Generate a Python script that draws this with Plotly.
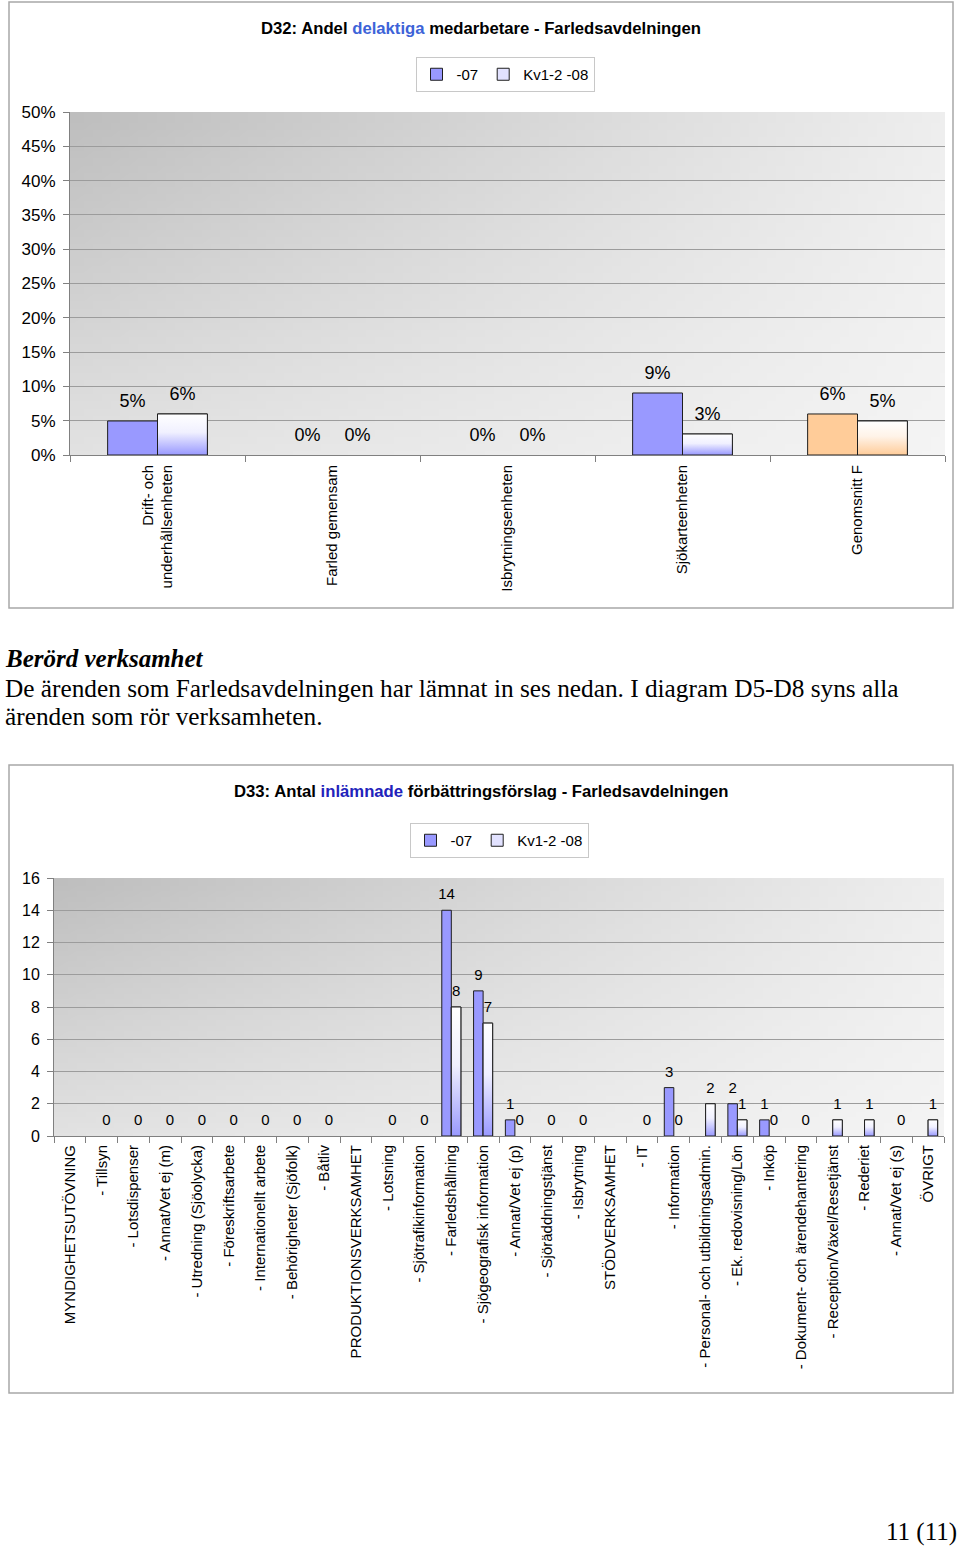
import base64
import struct
import zlib
import plotly.graph_objects as go

W, H = 960, 1547

# ---------------- data ----------------
top_categories = ["Drift- och<br>underhållsenheten", "Farled gemensam", "Isbrytningsenheten",
                  "Sjökarteenheten", "Genomsnitt F"]
top_2007 = [0.0496, 0.0, 0.0, 0.0904, 0.0598]
top_kv2008 = [0.0598, 0.0, 0.0, 0.0306, 0.0496]

bottom_categories = [
    "MYNDIGHETSUTÖVNING", "- Tillsyn", "- Lotsdispenser", "- Annat/Vet ej (m)",
    "- Utredning (Sjöolycka)", "- Föreskriftsarbete", "- Internationellt arbete",
    "- Behörigheter (Sjöfolk)", "- Båtliv", "PRODUKTIONSVERKSAMHET", "- Lotsning",
    "- Sjötrafikinformation", "- Farledshållning", "- Sjögeografisk information",
    "- Annat/Vet ej (p)", "- Sjöräddningstjänst", "- Isbrytning", "STÖDVERKSAMHET",
    "- IT", "- Information", "- Personal- och utbildningsadmin.", "- Ek. redovisning/Lön",
    "- Inköp", "- Dokument- och ärendehantering", "- Reception/Växel/Resetjänst",
    "- Rederiet", "- Annat/Vet ej (s)", "ÖVRIGT"]
bottom_2007 = [None, None, None, None, None, None, None, None, None, None, None, None,
               14, 9, 1, None, None, None, None, 3, None, 2, 1, None, None, None, None, None]
bottom_kv2008 = [None, 0, 0, 0, 0, 0, 0, 0, 0, None, 0, 0,
                 8, 7, 0, 0, 0, None, 0, 0, 2, 1, 0, 0, 1, 1, 0, 1]

series_names = ["-07", "Kv1-2 -08"]

# ---------------- styles ----------------
BLUE = "#9999FF"
ORANGE = "#FFCC99"
top_colors = [BLUE, BLUE, BLUE, BLUE, ORANGE]
OUTLINE = "#1E1E1E"
SANS = "Liberation Sans, Arial, sans-serif"
SERIF = "Liberation Serif, Times New Roman, serif"
BAR_W_TOP = 0.285
BAR_W_BOT = 0.30


def px_y(y):
    return 1 - y / H


def px_x(x):
    return x / W


def outline_widths(values):
    # no outline on zero-height bars (avoids a dark stub on the baseline)
    return [0 if v == 0 else 1 for v in values]


def gradient_png(w, h, tl, tr, bl, br):
    rows = []
    for j in range(h):
        v = j / (h - 1)
        row = bytearray([0])
        for i in range(w):
            u = i / (w - 1)
            c = tl * (1 - u) * (1 - v) + tr * u * (1 - v) + bl * (1 - u) * v + br * u * v
            c = int(round(c))
            row += bytes([c, c, c])
        rows.append(bytes(row))
    raw = b"".join(rows)

    def chunk(t, d):
        return struct.pack(">I", len(d)) + t + d + struct.pack(">I", zlib.crc32(t + d) & 0xFFFFFFFF)

    png = (b"\x89PNG\r\n\x1a\n"
           + chunk(b"IHDR", struct.pack(">IIBBBBB", w, h, 8, 2, 0, 0, 0))
           + chunk(b"IDAT", zlib.compress(raw, 9))
           + chunk(b"IEND", b""))
    return "data:image/png;base64," + base64.b64encode(png).decode()


bg_img = gradient_png(96, 48, 190, 238, 226, 244)

fig = go.Figure()


def add_labels(xs, ys, texts, font_size, marker_size, xa, ya):
    px, py, pt = [], [], []
    for x, y, t in zip(xs, ys, texts):
        if y is not None:
            px.append(x)
            py.append(y)
            pt.append(t)
    fig.add_trace(go.Scatter(
        x=px, y=py, text=pt, mode="markers+text", textposition="top center",
        marker=dict(size=marker_size, opacity=0, color="white"),
        textfont=dict(family=SANS, size=font_size, color="black"),
        hoverinfo="skip", showlegend=False, cliponaxis=False, xaxis=xa, yaxis=ya))


# ---------------- top chart ----------------
top_x = list(range(len(top_categories)))
fig.add_trace(go.Bar(
    x=top_x, y=top_2007, name=series_names[0], width=BAR_W_TOP, offset=-BAR_W_TOP,
    marker=dict(color=top_colors, line=dict(color=OUTLINE, width=outline_widths(top_2007))),
    xaxis="x", yaxis="y", legend="legend"))
fig.add_trace(go.Bar(
    x=top_x, y=top_kv2008, name=series_names[1], width=BAR_W_TOP, offset=0,
    marker=dict(color="#E2E2FF", line=dict(color=OUTLINE, width=outline_widths(top_kv2008))),
    xaxis="x", yaxis="y", legend="legend"))
for i, v in enumerate(top_kv2008):
    if v:
        c = top_colors[i]
        fig.add_trace(go.Scatter(
            x=[i, i + BAR_W_TOP, i + BAR_W_TOP, i, i], y=[0, 0, v, v, 0],
            mode="lines", fill="toself",
            fillgradient=dict(type="vertical", colorscale=[[0, c], [0.55, "#F0F0FF" if c == BLUE else "#FFF3E8"], [1, "#FFFFFF"]]),
            line=dict(color=OUTLINE, width=1), hoverinfo="skip", showlegend=False,
            xaxis="x", yaxis="y"))
add_labels([i - BAR_W_TOP / 2 for i in top_x], top_2007,
           [f"{v:.0%}" for v in top_2007], 18, 14, "x", "y")
add_labels([i + BAR_W_TOP / 2 for i in top_x], top_kv2008,
           [f"{v:.0%}" for v in top_kv2008], 18, 14, "x", "y")

# ---------------- bottom chart ----------------
bot_x = list(range(len(bottom_categories)))
fig.add_trace(go.Bar(
    x=bot_x, y=bottom_2007, name=series_names[0], width=BAR_W_BOT, offset=-BAR_W_BOT,
    marker=dict(color=BLUE, line=dict(color=OUTLINE, width=outline_widths(bottom_2007))),
    xaxis="x2", yaxis="y2", legend="legend2"))
fig.add_trace(go.Bar(
    x=bot_x, y=bottom_kv2008, name=series_names[1], width=BAR_W_BOT, offset=0,
    marker=dict(color="#E2E2FF", line=dict(color=OUTLINE, width=outline_widths(bottom_kv2008))),
    xaxis="x2", yaxis="y2", legend="legend2"))
for i, v in enumerate(bottom_kv2008):
    if v:
        fig.add_trace(go.Scatter(
            x=[i, i + BAR_W_BOT, i + BAR_W_BOT, i, i], y=[0, 0, v, v, 0],
            mode="lines", fill="toself",
            fillgradient=dict(type="vertical", colorscale=[[0, BLUE], [0.55, "#F0F0FF"], [1, "#FFFFFF"]]),
            line=dict(color=OUTLINE, width=1), hoverinfo="skip", showlegend=False,
            xaxis="x2", yaxis="y2"))
add_labels([i - BAR_W_BOT / 2 for i in bot_x], bottom_2007,
           ["" if v is None else str(v) for v in bottom_2007], 15, 10, "x2", "y2")
add_labels([i + BAR_W_BOT / 2 for i in bot_x], bottom_kv2008,
           ["" if v is None else str(v) for v in bottom_kv2008], 15, 10, "x2", "y2")

axis_grey = "#808080"
grid_grey = "#9C9C9C"

fig.update_layout(
    width=W, height=H,
    margin=dict(l=0, r=0, t=0, b=0, pad=0, autoexpand=False),
    paper_bgcolor="white", plot_bgcolor="rgba(0,0,0,0)",
    barmode="overlay",
    font=dict(family=SANS, color="black"),
    xaxis=dict(domain=[px_x(70), px_x(945)], range=[-0.5, len(top_categories) - 0.5],
               tickmode="array", tickvals=top_x, ticktext=top_categories, tickangle=-90,
               tickfont=dict(family=SANS, size=15, color="black"),
               ticks="", showgrid=False, zeroline=False, showline=True, linecolor=axis_grey,
               ticklabelstandoff=3, automargin=False,
               minor=dict(tickmode="array", tickvals=[k - 0.5 for k in range(len(top_categories) + 1)],
                          ticks="outside", ticklen=6, tickcolor=axis_grey, showgrid=False),
               anchor="y", fixedrange=True),
    yaxis=dict(domain=[px_y(455), px_y(112)], range=[0, 0.5], dtick=0.05, tickformat=".0%",
               tickfont=dict(family=SANS, size=17, color="black"),
               ticks="outside", ticklen=6, tickcolor=axis_grey, showline=True, linecolor=axis_grey,
               showgrid=True, gridcolor=grid_grey, gridwidth=1, zeroline=False,
               ticklabelstandoff=4, automargin=False, anchor="x", fixedrange=True),
    xaxis2=dict(domain=[px_x(54), px_x(944)], range=[-0.5, len(bottom_categories) - 0.5],
                tickmode="array", tickvals=bot_x, ticktext=bottom_categories, tickangle=-90,
                tickfont=dict(family=SANS, size=15, color="black"),
                ticks="", showgrid=False, zeroline=False, showline=True, linecolor=axis_grey,
                ticklabelstandoff=2, automargin=False,
                minor=dict(tickmode="array", tickvals=[k - 0.5 for k in range(len(bottom_categories) + 1)],
                           ticks="outside", ticklen=6, tickcolor=axis_grey, showgrid=False),
                anchor="y2", fixedrange=True),
    yaxis2=dict(domain=[px_y(1136), px_y(878)], range=[0, 16], dtick=2,
                tickfont=dict(family=SANS, size=16, color="black"),
                ticks="outside", ticklen=6, tickcolor=axis_grey, showline=True, linecolor=axis_grey,
                showgrid=True, gridcolor=grid_grey, gridwidth=1, zeroline=False,
                ticklabelstandoff=4, automargin=False, anchor="x2", fixedrange=True),
    legend=dict(orientation="h", x=px_x(505), y=px_y(57), xanchor="center", yanchor="top",
                bgcolor="white", bordercolor="#C8C8C8", borderwidth=1,
                font=dict(family=SANS, size=15, color="black"), itemwidth=30),
    legend2=dict(orientation="h", x=px_x(499), y=px_y(823), xanchor="center", yanchor="top",
                 bgcolor="white", bordercolor="#C8C8C8", borderwidth=1,
                 font=dict(family=SANS, size=15, color="black"), itemwidth=30),
    images=[
        dict(source=bg_img, xref="x", yref="y", x=-0.5, y=0.5, sizex=len(top_categories), sizey=0.5,
             sizing="stretch", xanchor="left", yanchor="top", layer="below"),
        dict(source=bg_img, xref="x2", yref="y2", x=-0.5, y=16, sizex=len(bottom_categories), sizey=16,
             sizing="stretch", xanchor="left", yanchor="top", layer="below"),
    ],
    shapes=[
        dict(type="rect", xref="paper", yref="paper", x0=px_x(9), x1=px_x(953), y0=px_y(608), y1=px_y(2),
             line=dict(color="#A8A8A8", width=1.5), fillcolor="rgba(0,0,0,0)", layer="below"),
        dict(type="rect", xref="paper", yref="paper", x0=px_x(9), x1=px_x(953), y0=px_y(1393), y1=px_y(765),
             line=dict(color="#A8A8A8", width=1.5), fillcolor="rgba(0,0,0,0)", layer="below"),
    ],
    annotations=[
        dict(xref="paper", yref="paper", x=px_x(481), y=px_y(28), xanchor="center", yanchor="middle",
             showarrow=False, font=dict(family=SANS, size=16.7, color="black"),
             text="<b>D32: Andel <span style='color:#3D63D8'>delaktiga</span> medarbetare - Farledsavdelningen</b>"),
        dict(xref="paper", yref="paper", x=px_x(481), y=px_y(792), xanchor="center", yanchor="middle",
             showarrow=False, font=dict(family=SANS, size=16.7, color="black"),
             text="<b>D33: Antal <span style='color:#2222BB'>inlämnade</span> förbättringsförslag - Farledsavdelningen</b>"),
        dict(xref="paper", yref="paper", x=px_x(3), y=px_y(658), xanchor="left", yanchor="middle",
             showarrow=False, font=dict(family=SERIF, size=25, color="black"),
             text="<b><i>Berörd verksamhet</i></b>"),
        dict(xref="paper", yref="paper", x=px_x(3), y=px_y(688), xanchor="left", yanchor="middle",
             showarrow=False, font=dict(family=SERIF, size=25.3, color="black"),
             text="De ärenden som Farledsavdelningen har lämnat in ses nedan. I diagram D5-D8 syns alla"),
        dict(xref="paper", yref="paper", x=px_x(3), y=px_y(716), xanchor="left", yanchor="middle",
             showarrow=False, font=dict(family=SERIF, size=25.3, color="black"),
             text="ärenden som rör verksamheten."),
        dict(xref="paper", yref="paper", x=px_x(959), y=px_y(1532), xanchor="right", yanchor="middle",
             showarrow=False, font=dict(family=SERIF, size=25, color="black"),
             text="11 (11)"),
    ],
)

page_css = (
    "document.body.style.margin='0';document.body.style.padding='0';"
    "document.documentElement.style.overflow='hidden';"
)

fig.write_html("out.html", config={"displayModeBar": False}, post_script=page_css)
